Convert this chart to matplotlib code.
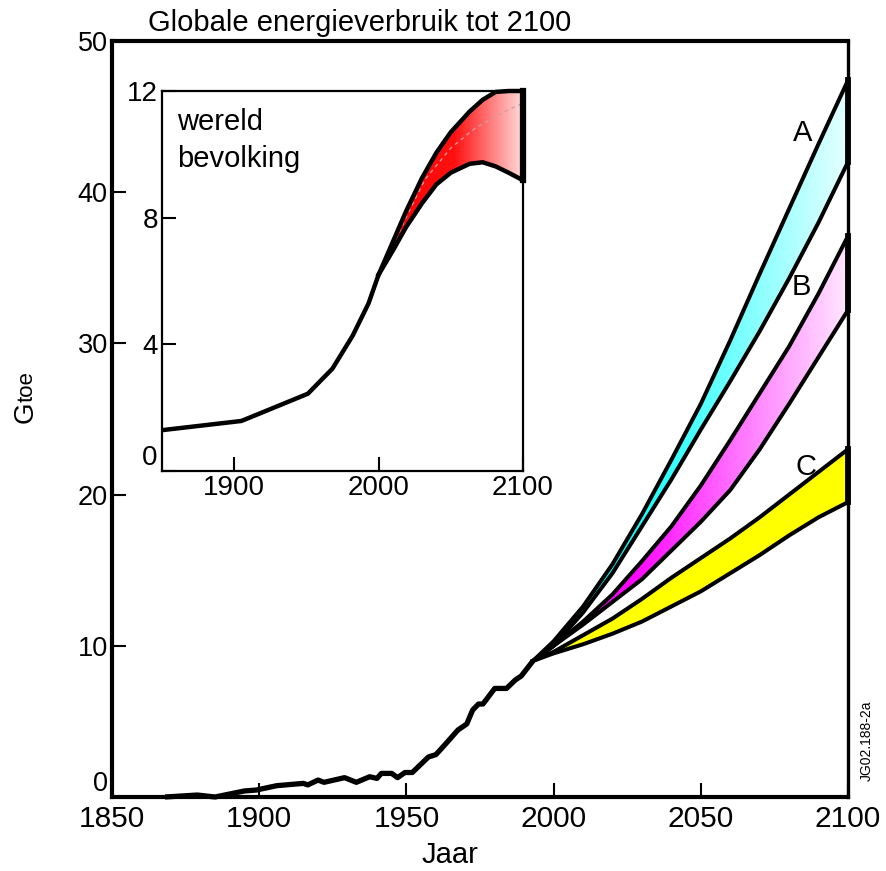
import numpy as np
import matplotlib
matplotlib.use("Agg")
import matplotlib.pyplot as plt
from matplotlib.colors import LinearSegmentedColormap, Normalize

plt.rcParams['font.family'] = ['Liberation Sans', 'DejaVu Sans']

# --- Historical world energy use (Gtoe) ---
hist_years = [1868, 1879, 1885, 1895, 1899, 1906, 1915, 1916.5, 1920, 1922, 1929, 1933,
              1937.5, 1940, 1941.5, 1945, 1947, 1949.5, 1952, 1957.5, 1960, 1962.5,
              1967.5, 1970.5, 1972.5, 1974.5, 1976, 1980, 1984, 1987, 1989, 1993]
hist_energy = [0.0, 0.13, 0.0, 0.4, 0.46, 0.75, 0.9, 0.8, 1.12, 0.97, 1.28, 0.97,
               1.34, 1.23, 1.56, 1.56, 1.28, 1.62, 1.62, 2.65, 2.8, 3.33,
               4.43, 4.83, 5.75, 6.15, 6.15, 7.18, 7.18, 7.74, 8.0, 9.0]

# --- Scenario ranges A, B, C (Gtoe) ---
scen_years = [1993, 2000, 2010, 2020, 2030, 2040, 2050, 2060, 2070, 2080, 2090, 2100]
a_high = [9.0, 10.3, 12.6, 15.4, 18.7, 22.3, 26.0, 30.2, 34.6, 38.9, 43.2, 47.4]
a_low  = [9.0, 10.0, 12.2, 14.8, 17.9, 21.0, 24.3, 27.5, 30.8, 34.3, 38.0, 42.0]
b_high = [9.0, 10.0, 11.6, 13.4, 15.6, 17.9, 20.6, 23.6, 26.7, 29.8, 33.3, 37.1]
b_low  = [9.0, 10.0, 11.4, 12.9, 14.4, 16.3, 18.2, 20.3, 23.0, 26.0, 29.1, 32.2]
c_high = [9.0, 9.6, 10.7, 11.8, 13.1, 14.5, 15.8, 17.1, 18.5, 20.0, 21.5, 23.0]
c_low  = [9.0, 9.5, 10.1, 10.8, 11.6, 12.6, 13.6, 14.8, 16.0, 17.3, 18.5, 19.5]
scen_labels = ['A', 'B', 'C']

# --- World population (billions) ---
pop_years = [1852, 1905, 1951, 1968, 1982, 1993, 2000]
pop_values = [1.30, 1.58, 2.44, 3.23, 4.27, 5.29, 6.2]
proj_years = [2000, 2010, 2019, 2030, 2040, 2050, 2063, 2072, 2081, 2090, 2100]
pop_high = [6.2, 7.25, 8.2, 9.25, 10.05, 10.7, 11.35, 11.72, 11.97, 12.0, 12.0]
pop_low  = [6.2, 6.97, 7.7, 8.45, 9.05, 9.42, 9.7, 9.75, 9.62, 9.42, 9.18]
mid_years = [2010, 2020, 2032, 2050, 2067, 2085, 2100]
pop_mid = [7.1, 8.1, 9.2, 10.2, 10.83, 11.3, 11.62]

W, H = 886, 871
fig = plt.figure(figsize=(W / 100, H / 100), dpi=100)


def fx(px):
    return px / W


def fy(py):
    return 1 - py / H


def gradient_band(ax, x, lo, hi, colors, vmin, vmax, z=2):
    poly = ax.fill_between(x, lo, hi, facecolor='none', edgecolor='none')
    path = poly.get_paths()[0]
    xs = np.linspace(min(x), max(x), 400)
    cmap = LinearSegmentedColormap.from_list('band', colors)
    im = ax.imshow(xs.reshape(1, -1), extent=[min(x), max(x), min(lo), max(hi)],
                   aspect='auto', cmap=cmap, norm=Normalize(vmin, vmax, clip=True),
                   origin='lower', interpolation='bilinear', zorder=z)
    im.set_clip_path(path, transform=ax.transData)
    return im


# ---------------- main axes ----------------
ax = fig.add_axes([fx(112), fy(797), fx(848) - fx(112), fy(41) - fy(797)])
ax.set_xlim(1850, 2100)
ax.set_ylim(0, 50)

bands = [(a_low, a_high, ['#00ffff', '#f2ffff'], 2022, 2104),
         (b_low, b_high, ['#ff00ff', '#fff4ff'], 2025, 2104),
         (c_low, c_high, ['#ffff00', '#ffff00'], 2000, 2100)]
for lo, hi, cols, v0, v1 in bands:
    gradient_band(ax, scen_years, lo, hi, cols, v0, v1)
    ax.plot(scen_years, hi, color='k', lw=2.9, solid_joinstyle='round', zorder=3)
    ax.plot(scen_years, lo, color='k', lw=2.9, solid_joinstyle='round', zorder=3)
    ax.plot([2100, 2100], [lo[-1], hi[-1]], color='k', lw=4.2, zorder=4, clip_on=False)

ax.plot(hist_years, hist_energy, color='k', lw=3.8, solid_joinstyle='round',
        solid_capstyle='butt', zorder=3, clip_on=False)

for lab, xv, yv in zip(scen_labels, [2084.7, 2084.0, 2085.7], [43.9, 33.7, 21.8]):
    ax.text(xv, yv, lab, fontsize=21, ha='center', va='center')

ax.set_xticks([1850, 1900, 1950, 2000, 2050, 2100])
ax.set_yticks([0, 10, 20, 30, 40, 50])
ax.tick_params(axis='x', direction='in', length=10, width=1.5, labelsize=21.5, pad=6)
ax.tick_params(axis='y', direction='in', length=10, width=1.5, labelsize=19.5, pad=3)
ax.get_yticklabels()[0].set_va('bottom')
for s in ax.spines.values():
    s.set_linewidth(3.0)
ax.spines['right'].set_linewidth(2.4)

# ---------------- inset: world population ----------------
ins = fig.add_axes([fx(162), fy(471), fx(523) - fx(162), fy(91) - fy(471)])
ins.set_xlim(1850, 2100)
ins.set_ylim(0, 12)
ins.set_facecolor('white')
gradient_band(ins, proj_years, pop_low, pop_high, ['#ff0000', '#ff1010', '#ffeeee'], 2000, 2104)
ins.plot(mid_years, pop_mid, color='#c8a0a0', lw=0.9, ls=(0, (3, 3)), zorder=3)
ins.plot(pop_years, pop_values, color='k', lw=3.2, solid_joinstyle='round', zorder=4)
ins.plot(proj_years, pop_high, color='k', lw=3.2, solid_joinstyle='round', zorder=4, clip_on=False)
ins.plot(proj_years, pop_low, color='k', lw=3.2, solid_joinstyle='round', zorder=4)
ins.plot([2100, 2100], [pop_low[-1], pop_high[-1]], color='k', lw=4.5, zorder=5, clip_on=False)
ins.set_xticks([1900, 2000, 2100])
ins.set_yticks([0, 4, 8, 12])
ins.tick_params(direction='in', length=10, width=1.5, labelsize=20, pad=3)
ins.get_yticklabels()[0].set_va('bottom')
for s in ins.spines.values():
    s.set_linewidth(1.6)

fig.text(fx(177), fy(130), 'wereld', fontsize=21, va='baseline', ha='left')
fig.text(fx(177), fy(167), 'bevolking', fontsize=21, va='baseline', ha='left')

# ---------------- titles and labels ----------------
fig.text(fx(148), fy(31), 'Globale energieverbruik tot 2100', fontsize=21, va='baseline', ha='left')
fig.text(fx(450), fy(855), 'Jaar', fontsize=21, va='center', ha='center')
fig.text(fx(33), fy(423), 'G', fontsize=20, rotation=90, rotation_mode='anchor',
         ha='left', va='baseline')
fig.text(fx(33), fy(402), 'toe', fontsize=16, rotation=90, rotation_mode='anchor',
         ha='left', va='baseline')
fig.text(fx(871), fy(741), 'JG02.188-2a', fontsize=10, rotation=90, rotation_mode='anchor',
         ha='center', va='baseline')

fig.savefig('out.png', dpi=100)
